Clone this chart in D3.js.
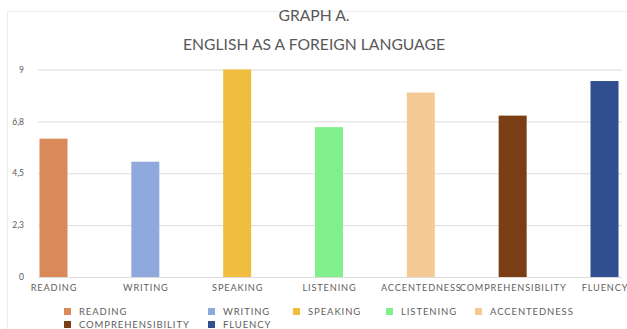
<!DOCTYPE html>
<html>
<head>
<meta charset="utf-8">
<script src="https://cdn.jsdelivr.net/npm/d3@7"></script>
<style>
  html, body { margin: 0; padding: 0; background: #ffffff; }
  svg { display: block; }
  text { font-family: Lato, "Open Sans", sans-serif; }
</style>
</head>
<body>
<svg id="chart" width="627" height="329"></svg>
<script>
// Skill scores for English as a foreign language
const categories = ["READING", "WRITING", "SPEAKING", "LISTENING", "ACCENTEDNESS", "COMPREHENSIBILITY", "FLUENCY"];
const values = [6, 5, 9, 6.5, 8, 7, 8.5];
const colors = ["#d98a58", "#8fa9dc", "#f0bd3e", "#80ef8c", "#f5c994", "#7a3e14", "#2f4f90"];
const tickValues = [0, 2.25, 4.5, 6.75, 9];
const tickLabels = ["0", "2,3", "4,5", "6,8", "9"];
const titleLines = ["GRAPH A.", "ENGLISH AS A FOREIGN LANGUAGE"];
const legendRows = [["READING", "WRITING", "SPEAKING", "LISTENING", "ACCENTEDNESS"], ["COMPREHENSIBILITY", "FLUENCY"]];

const svg = d3.select("#chart");
const W = 627, H = 329;

// faint outer chart frame
svg.append("rect")
  .attr("x", 7.5).attr("y", 11.5).attr("width", W - 6).attr("height", H)
  .attr("fill", "none").attr("stroke", "#ececec");

const x = d3.scalePoint().domain(categories).range([53.5, 604.5]);
const y = d3.scaleLinear().domain([0, 9]).range([277, 69.5]);
const barW = 28;
const color = d3.scaleOrdinal().domain(categories).range(colors);

// title
svg.selectAll("text.title").data(titleLines).join("text")
  .attr("class", "title")
  .attr("x", 314).attr("y", (d, i) => i === 0 ? 21 : 50)
  .attr("text-anchor", "middle")
  .attr("font-size", 15.7)
  .attr("fill", "#595959")
  .text(d => d);

// y axis with gridlines
const yAxis = d3.axisLeft(y)
  .tickValues(tickValues)
  .tickFormat((d, i) => tickLabels[i])
  .tickSize(-(622 - 38))
  .tickPadding(14);
const gy = svg.append("g").attr("transform", "translate(38,0)").call(yAxis);
gy.select(".domain").remove();
gy.selectAll(".tick line").attr("stroke", "#dcdcdc").attr("stroke-width", 1);
gy.selectAll(".tick text")
  .attr("fill", "#595959").attr("font-size", 8.5)
  .attr("font-family", "Lato, sans-serif");

// bars
svg.selectAll("rect.bar").data(categories).join("rect")
  .attr("class", "bar")
  .attr("x", d => x(d) - barW / 2)
  .attr("width", barW)
  .attr("y", (d, i) => y(values[i]))
  .attr("height", (d, i) => y(0) - y(values[i]))
  .attr("fill", d => color(d));

// category axis
const xAxis = d3.axisBottom(x).tickSize(0).tickPadding(7);
const gx = svg.append("g").attr("transform", "translate(0,277)").call(xAxis);
gx.select(".domain").remove();
gx.selectAll(".tick text")
  .attr("fill", "#606060").attr("font-size", 9.2)
  .attr("letter-spacing", 0.85)
  .attr("font-family", "Lato, sans-serif");

// legend
const legendX = [64, 208, 293, 386, 475];
const legendY = [312, 325];
legendRows.forEach((row, r) => {
  const g = svg.append("g");
  const items = g.selectAll("g").data(row).join("g")
    .attr("transform", (d, i) => `translate(${legendX[i]},${legendY[r]})`);
  items.append("rect")
    .attr("x", 0).attr("y", -4).attr("width", 7).attr("height", 7)
    .attr("fill", d => color(d));
  items.append("text")
    .attr("x", 15).attr("y", 3)
    .attr("font-size", 9.5).attr("letter-spacing", 0.9)
    .attr("fill", "#606060")
    .text(d => d);
});
</script>
</body>
</html>
